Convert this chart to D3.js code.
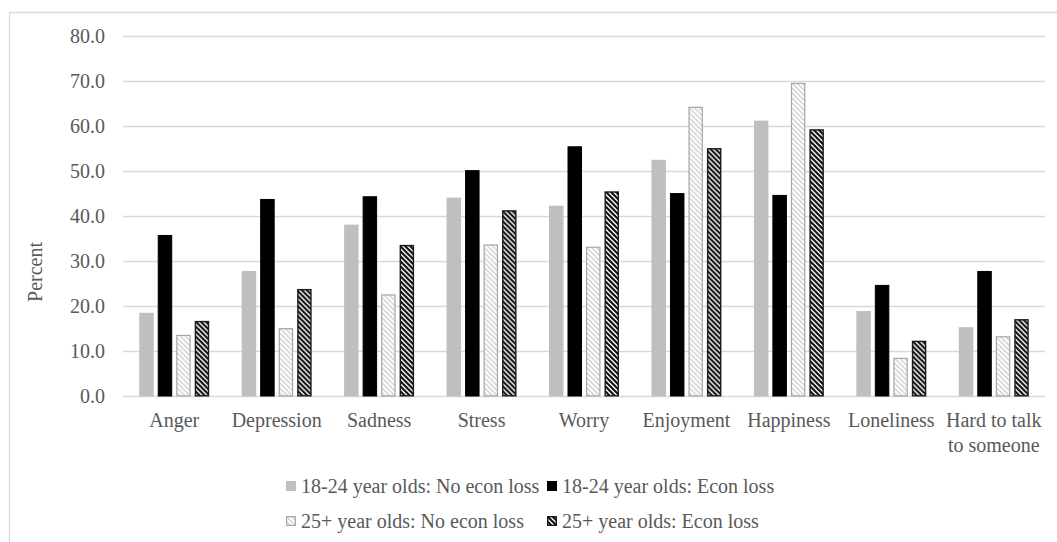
<!DOCTYPE html>
<html>
<head>
<meta charset="utf-8">
<script src="https://cdn.jsdelivr.net/npm/d3@7"></script>
<style>
  html, body { margin: 0; padding: 0; background: #fff; }
  svg { display: block; }
  text { font-family: "Liberation Serif", "Times New Roman", serif; fill: #595959; }
</style>
</head>
<body>
<svg id="chart" width="1057" height="542"></svg>
<script>
const categories = ["Anger", "Depression", "Sadness", "Stress", "Worry", "Enjoyment", "Happiness", "Loneliness", "Hard to talk\nto someone"];
const seriesNames = ["18-24 year olds: No econ loss", "18-24 year olds: Econ loss", "25+ year olds: No econ loss", "25+ year olds: Econ loss"];
const young_noLoss = [18.6, 27.9, 38.2, 44.2, 42.4, 52.6, 61.3, 19.0, 15.4];
const young_loss   = [35.9, 43.9, 44.5, 50.3, 55.6, 45.2, 44.8, 24.8, 27.9];
const older_noLoss = [13.7, 15.2, 22.7, 33.8, 33.3, 64.4, 69.7, 8.6, 13.4];
const older_loss   = [16.8, 23.9, 33.7, 41.4, 45.6, 55.2, 59.4, 12.4, 17.2];
const yTicks = [0, 10, 20, 30, 40, 50, 60, 70, 80];
const yLabel = "Percent";

const seriesValues = [young_noLoss, young_loss, older_noLoss, older_loss];

const svg = d3.select("#chart");
const defs = svg.append("defs");

function hatch(id, bg, fg, sw) {
  const p = defs.append("pattern").attr("id", id)
    .attr("patternUnits", "userSpaceOnUse").attr("width", 5).attr("height", 5);
  p.append("rect").attr("width", 5).attr("height", 5).attr("fill", bg);
  p.append("path").attr("d", "M-1,-1L6,6M-1,4L1,6M4,-1L6,1")
    .attr("stroke", fg).attr("stroke-width", sw).attr("stroke-linecap", "square");
}
hatch("lightHatch", "#ffffff", "#cfcfcf", 1.4);
hatch("darkHatch", "#ffffff", "#111111", 2.2);

const styles = [
  { fill: "#bfbfbf", stroke: "none", sw: 0 },
  { fill: "#000000", stroke: "#000000", sw: 1 },
  { fill: "url(#lightHatch)", stroke: "#a6a6a6", sw: 1.2 },
  { fill: "url(#darkHatch)", stroke: "#1a1a1a", sw: 1.4 }
];

// outer border
svg.append("path").attr("d", "M9.5,542V12.5H1057")
  .attr("fill", "none").attr("stroke", "#d9d9d9").attr("stroke-width", 1.3);

const plotLeft = 123, plotRight = 1045, plotTop = 36.5, plotBottom = 396.5;

const x = d3.scaleBand().domain(categories).range([plotLeft, plotRight])
  .paddingInner(0.317).paddingOuter(0.1585);
const xi = d3.scaleBand().domain(d3.range(4)).range([0, x.bandwidth()])
  .paddingInner(0.216).paddingOuter(0);
const y = d3.scaleLinear().domain([0, 80]).range([plotBottom, plotTop]);

// gridlines
svg.append("g").selectAll("line").data(yTicks).join("line")
  .attr("x1", plotLeft).attr("x2", plotRight)
  .attr("y1", d => y(d)).attr("y2", d => y(d))
  .attr("stroke", "#d9d9d9").attr("stroke-width", 1.5);

// y axis labels
const yAxis = d3.axisLeft(y).tickValues(yTicks).tickFormat(d3.format(".1f")).tickSize(0).tickPadding(0);
const gy = svg.append("g").attr("transform", `translate(105,0)`).call(yAxis);
gy.select(".domain").remove();
gy.selectAll("text").attr("font-size", 20).attr("fill", "#595959")
  .style("font-family", '"Liberation Serif", serif');

// y label
svg.append("text").attr("transform", "translate(42,272) rotate(-90)")
  .attr("text-anchor", "middle").attr("font-size", 20).text(yLabel);

// bars
const groups = svg.append("g").selectAll("g").data(categories).join("g")
  .attr("transform", d => `translate(${x(d)},0)`);
groups.selectAll("rect").data((c, ci) => seriesValues.map((s, si) => ({ si, v: s[ci] })))
  .join("rect")
  .attr("x", d => xi(d.si) + (styles[d.si].sw / 2))
  .attr("width", d => xi.bandwidth() - styles[d.si].sw)
  .attr("y", d => y(d.v) + styles[d.si].sw / 2)
  .attr("height", d => Math.max(0, y(0) - y(d.v) - styles[d.si].sw))
  .attr("fill", d => styles[d.si].fill)
  .attr("stroke", d => styles[d.si].stroke)
  .attr("stroke-width", d => styles[d.si].sw);

// x labels
const xl = svg.append("g").selectAll("text").data(categories).join("text")
  .attr("x", d => x(d) + x.bandwidth() / 2).attr("y", 427)
  .attr("text-anchor", "middle").attr("font-size", 20);
xl.selectAll("tspan").data(d => d.split("\n")).join("tspan")
  .attr("x", function() { return d3.select(this.parentNode).attr("x"); })
  .attr("dy", (d, i) => i === 0 ? 0 : 25).text(d => d);

// legend
const legPos = [[286, 486], [547, 486], [286, 521], [547, 521]];
const leg = svg.append("g").selectAll("g").data(seriesNames).join("g")
  .attr("transform", (d, i) => `translate(${legPos[i][0]},${legPos[i][1]})`);
leg.append("rect")
  .attr("x", (d, i) => styles[i].sw / 2).attr("y", (d, i) => -5 + styles[i].sw / 2)
  .attr("width", (d, i) => 10 - styles[i].sw).attr("height", (d, i) => 10 - styles[i].sw)
  .attr("fill", (d, i) => styles[i].fill).attr("stroke", (d, i) => styles[i].stroke)
  .attr("stroke-width", (d, i) => styles[i].sw);
leg.append("text").attr("x", 15).attr("y", 7).attr("font-size", 20).text(d => d);
</script>
</body>
</html>
